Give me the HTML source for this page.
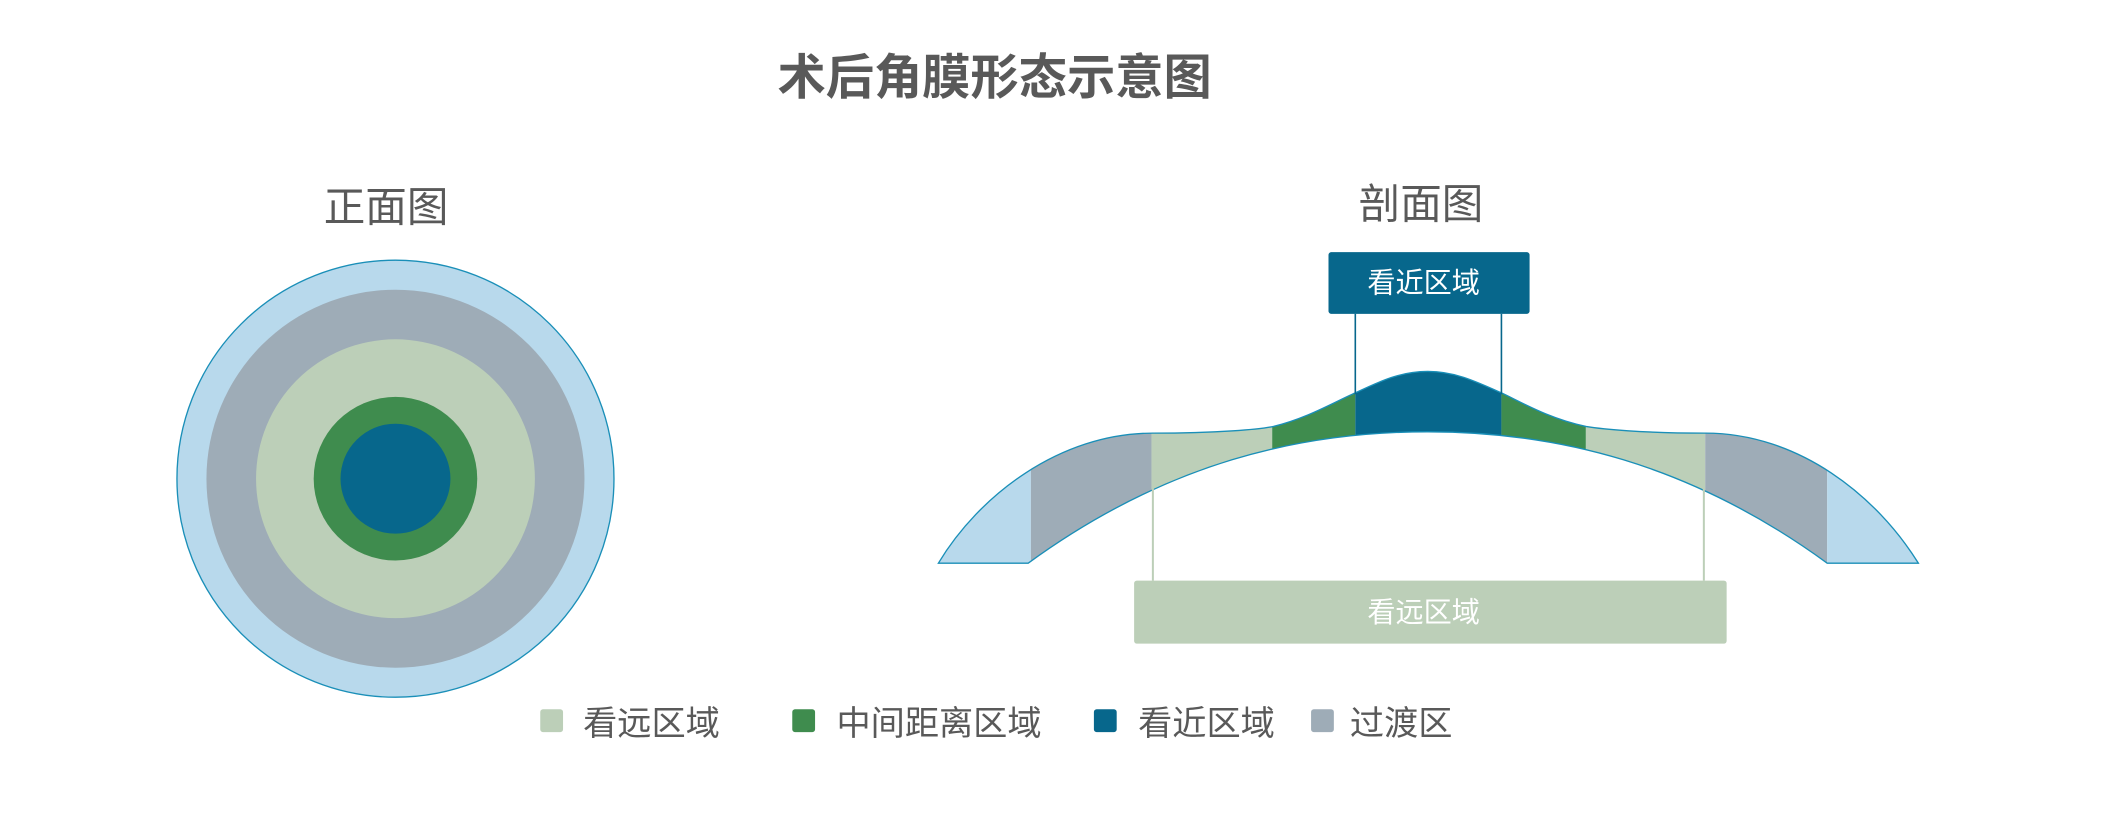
<!DOCTYPE html>
<html><head><meta charset="utf-8"><style>
html,body{margin:0;padding:0;background:#fff;width:2102px;height:818px;overflow:hidden}
svg{display:block}
text{font-family:"Liberation Sans","Noto Sans CJK SC",sans-serif}
</style></head><body>
<svg width="2102" height="818" viewBox="0 0 1568 610" xmlns="http://www.w3.org/2000/svg">
<defs>
<clipPath id="cs"><path id="shape" d="M700,420 C730,370 790,323 860,323 C910,323 940,320 950,318 C975,312 995,300 1011,293 C1030,284 1045,277 1065,277 C1085,277 1100,284 1120,293 C1135,300 1155,312 1183,318 C1195,320 1225,323 1272,323 C1342,323 1400,370 1431,420 L1363,420 C1260,345 1160,322 1065,322 C970,322 870,345 767,420 Z"/></clipPath>
</defs>
<text x="742" y="70" text-anchor="middle" font-size="36" font-weight="bold" fill="#595959">术后角膜形态示意图</text>
<text x="288" y="165" text-anchor="middle" font-size="31" fill="#595959">正面图</text>
<text x="1060" y="163" text-anchor="middle" font-size="31" fill="#595959">剖面图</text>
<circle cx="295" cy="357" r="163" fill="#b8d9ec" stroke="#1a8fb8" stroke-width="1"/>
<circle cx="295" cy="357" r="141" fill="#9eacb7"/>
<circle cx="295" cy="357" r="104" fill="#bccfb8"/>
<circle cx="295" cy="357" r="61" fill="#3f8c4e"/>
<circle cx="295" cy="357" r="41" fill="#07678c"/>
<g clip-path="url(#cs)">
<rect x="690" y="260" width="79" height="170" fill="#b8d9ec"/>
<rect x="769" y="260" width="90" height="170" fill="#9eacb7"/>
<rect x="859" y="260" width="90" height="170" fill="#bccfb8"/>
<rect x="949" y="260" width="62" height="170" fill="#3f8c4e"/>
<rect x="1011" y="260" width="109" height="170" fill="#07678c"/>
<rect x="1120" y="260" width="63" height="170" fill="#3f8c4e"/>
<rect x="1183" y="260" width="89" height="170" fill="#bccfb8"/>
<rect x="1272" y="260" width="91" height="170" fill="#9eacb7"/>
<rect x="1363" y="260" width="80" height="170" fill="#b8d9ec"/>
</g>
<use href="#shape" fill="none" stroke="#1a8fb8" stroke-width="1"/>
<line x1="1011" y1="234" x2="1011" y2="294" stroke="#07678c" stroke-width="1.2"/>
<line x1="1120" y1="234" x2="1120" y2="294" stroke="#07678c" stroke-width="1.2"/>
<line x1="860" y1="364" x2="860" y2="433" stroke="#bccfb8" stroke-width="1.5"/>
<line x1="1271" y1="364" x2="1271" y2="433" stroke="#bccfb8" stroke-width="1.5"/>
<rect x="991" y="188" width="150" height="46" rx="2" fill="#07678c"/>
<text x="1062" y="218" text-anchor="middle" font-size="21" fill="#fff">看近区域</text>
<rect x="846" y="433" width="442" height="47" rx="2" fill="#bccfb8"/>
<text x="1062" y="464" text-anchor="middle" font-size="21" fill="#fff">看远区域</text>
<rect x="403" y="529" width="17" height="17" rx="2" fill="#bccfb8"/>
<text x="435" y="548" font-size="25.5" fill="#595959">看远区域</text>
<rect x="591" y="529" width="17" height="17" rx="2" fill="#3f8c4e"/>
<text x="624" y="548" font-size="25.5" fill="#595959">中间距离区域</text>
<rect x="816" y="529" width="17" height="17" rx="2" fill="#07678c"/>
<text x="849" y="548" font-size="25.5" fill="#595959">看近区域</text>
<rect x="978" y="529" width="17" height="17" rx="2" fill="#9eacb7"/>
<text x="1007" y="548" font-size="25.5" fill="#595959">过渡区</text>
</svg>
</body></html>
